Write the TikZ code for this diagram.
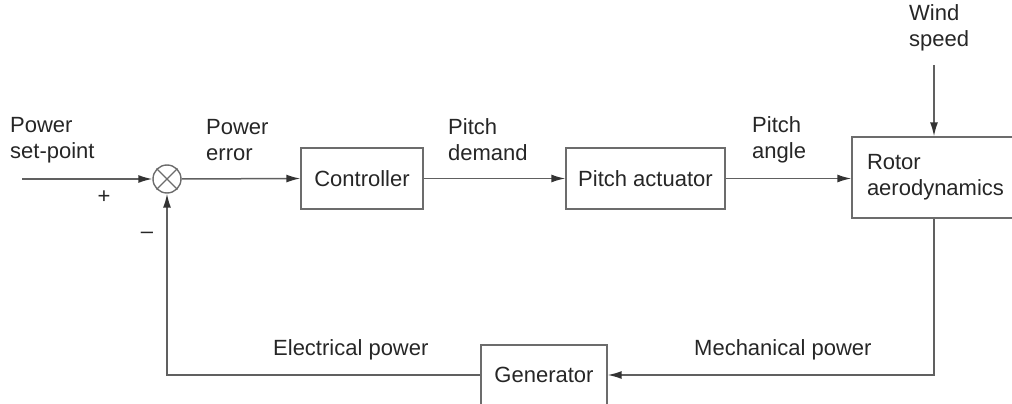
\documentclass[tikz,border=0pt]{standalone}
\usepackage{fontspec}
\setmainfont{Liberation Sans}
\usetikzlibrary{arrows.meta, positioning}

\begin{document}
\begin{tikzpicture}[x=1pt, y=-1pt, font=\fontsize{22}{26}\selectfont,
  block/.style={draw=gray!85!black, line width=1.4pt, minimum height=61pt, inner sep=0pt, text=black!85},
  lbl/.style={align=left, inner sep=0pt, text=black!85},
  sig/.style={draw=gray!75!black, line width=1.5pt, -{Latex[length=14pt,width=8pt,color=black!80]}}]
\useasboundingbox (0,0) rectangle (1012,404);

% Blocks
\node[block, minimum width=122pt] (ctrl) at (362,178.5) {Controller};
\node[block, minimum width=159pt] (act) at (645.5,178.5) {Pitch actuator};
\node[block, minimum height=81pt, align=left, text width=134pt, inner xsep=15pt] (rotor) at (934,177.5) {Rotor\\aerodynamics};
\node[block, minimum width=126pt, minimum height=60pt] (gen) at (544,375) {Generator};

% Summing junction
\node[circle, draw=gray!85!black, line width=1.4pt, minimum size=28pt, inner sep=0pt] (sum) at (167,179) {};
\draw[gray!85!black, line width=1.1pt] (sum.north east) -- (sum.south west) (sum.north west) -- (sum.south east);

% Labels
\node[lbl, anchor=west] (setp) at (10,140) {Power\\set-point};
\node[lbl, anchor=west] (err) at (206,140) {Power\\error};
\node[lbl, anchor=west] (dem) at (448,140) {Pitch\\demand};
\node[lbl, anchor=west] (ang) at (752,140) {Pitch\\angle};
\node[lbl, anchor=west] (wind) at (909,28) {Wind\\speed};
\node[lbl, anchor=west] (elec) at (273,350) {Electrical power};
\node[lbl, anchor=west] (mech) at (694,350) {Mechanical power};
\node[lbl] (plus) at (104,197) {+};
\node[lbl] (minus) at (147,235) {\textendash};

% Signals
\coordinate (in) at (22,179);
\coordinate (wtop) at (934,65);
\draw[sig] (in) -- (sum.west);
\draw[sig] (sum.east) -- (ctrl.west);
\draw[sig] (ctrl.east) -- (act.west);
\draw[sig] (act.east) -- (act.east -| rotor.west);
\draw[sig] (wtop) -- (rotor.north);
\draw[sig] (rotor.south) |- (gen.east);
\draw[sig] (gen.west) -| (sum.south);

\end{tikzpicture}
\end{document}
